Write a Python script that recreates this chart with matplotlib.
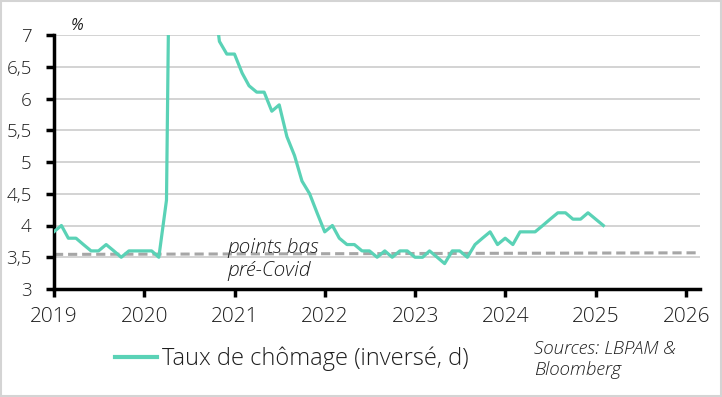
import matplotlib
matplotlib.use("Agg")
import matplotlib.pyplot as plt
from matplotlib.patches import Rectangle
import pandas as pd

# Data: monthly unemployment rate (month-end dates), Dec 2018 -> Jan 2025
start_month = "2018-12-31"
unemployment = [
    3.9,
    4.0, 3.8, 3.8, 3.7, 3.6, 3.6, 3.7, 3.6, 3.5, 3.6, 3.6, 3.6,
    3.6, 3.5, 4.4, 14.8, 13.2, 11.0, 10.2, 8.4, 7.9, 6.9, 6.7, 6.7,
    6.4, 6.2, 6.1, 6.1, 5.8, 5.9, 5.4, 5.1, 4.7, 4.5, 4.2, 3.9,
    4.0, 3.8, 3.7, 3.7, 3.6, 3.6, 3.5, 3.6, 3.5, 3.6, 3.6, 3.5,
    3.5, 3.6, 3.5, 3.4, 3.6, 3.6, 3.5, 3.7, 3.8, 3.9, 3.7, 3.8,
    3.7, 3.9, 3.9, 3.9, 4.0, 4.1, 4.2, 4.2, 4.1, 4.1, 4.2, 4.1,
    4.0,
]
low_dates = ["2019-01-01", "2026-02-15"]
low_values = [3.545, 3.57]
y_ticks = [3, 3.5, 4, 4.5, 5, 5.5, 6, 6.5, 7]
y_labels = ["3", "3,5", "4", "4,5", "5", "5,5", "6", "6,5", "7"]
x_years = list(range(2019, 2027))

dates = pd.date_range(start_month, periods=len(unemployment), freq="ME")

FONT = ["Open Sans", "DejaVu Sans"]
plt.rcParams["font.family"] = FONT
TXT = "#1e1e1e"

fig = plt.figure(figsize=(7.22, 3.97), dpi=100)
fig.patches.append(Rectangle((0.002, 0.003), 0.996, 0.994, transform=fig.transFigure,
                             fill=False, edgecolor="#d4d4d4", linewidth=1.5))
ax = fig.add_axes([54 / 722, 1 - 289 / 397, (700 - 54) / 722, (289 - 35) / 397])

ax.plot(dates, unemployment, color="#5AD2B6", linewidth=2.3, solid_joinstyle="round",
        label="Taux de chômage (inversé, d)", zorder=3)
ax.plot(pd.to_datetime(low_dates), low_values, color="#a6a6a6", linewidth=2.2,
        linestyle=(0, (3.0, 1.6)), zorder=2)

ax.set_ylim(3, 7)
ax.set_xlim(pd.Timestamp("2019-01-01"), pd.Timestamp("2026-02-26"))
ax.set_yticks(y_ticks)
ax.set_yticklabels(y_labels)
ax.set_xticks([pd.Timestamp(f"{y}-01-01") for y in x_years])
ax.set_xticklabels([str(y) for y in x_years])

ax.grid(axis="y", color="#d0d0d0", linewidth=1.3)
ax.set_axisbelow(True)
for s in ["top", "right"]:
    ax.spines[s].set_visible(False)
for s in ["left", "bottom"]:
    ax.spines[s].set_linewidth(2.5)
    ax.spines[s].set_color("black")
ax.tick_params(axis="both", direction="out", length=6, width=2.5,
               colors="black", labelcolor=TXT)
ax.tick_params(axis="y", pad=10, labelsize=13.5)
ax.tick_params(axis="x", pad=7, labelsize=15)
for lab in ax.get_xticklabels() + ax.get_yticklabels():
    lab.set_fontweight("light")

ax.text(pd.Timestamp("2020-12-03"), 3.567, "points bas", fontsize=15, style="italic",
        fontweight="light", ha="left", va="baseline", color=TXT)
ax.text(pd.Timestamp("2020-12-03"), 3.205, "pré-Covid", fontsize=15, style="italic",
        fontweight="light", ha="left", va="baseline", color=TXT)

fig.text(77 / 722, 1 - 26 / 397, "%", fontsize=11.5, style="italic", ha="center",
         va="center", color=TXT)

leg = fig.legend(loc="center left", bbox_to_anchor=(115 / 722, 1 - 359 / 397), frameon=False,
                 fontsize=17, handlelength=1.78, handletextpad=0.22, borderaxespad=0,
                 borderpad=0)
for t in leg.get_texts():
    t.set_fontweight("light")
    t.set_color(TXT)
for h in leg.get_lines():
    h.set_linewidth(3)

fig.text(534 / 722, 1 - 354 / 397, "Sources: LBPAM &", fontsize=13.5, style="italic",
         fontweight="light", ha="left", va="baseline", color=TXT)
fig.text(534 / 722, 1 - 375 / 397, "Bloomberg", fontsize=13.5, style="italic",
         fontweight="light", ha="left", va="baseline", color=TXT)

fig.savefig("out.png", dpi=100)
